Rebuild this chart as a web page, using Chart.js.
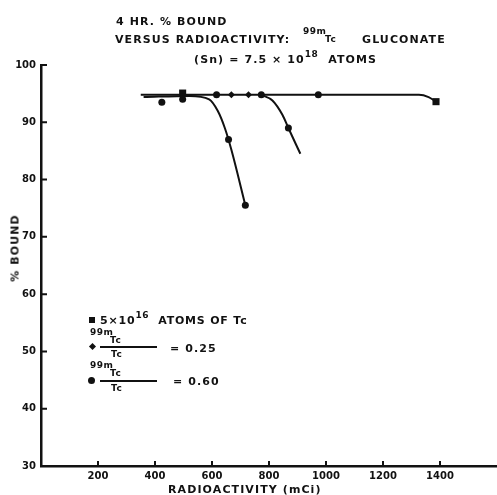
<!DOCTYPE html>
<html>
<head>
<meta charset="utf-8">
<script src="https://cdn.jsdelivr.net/npm/chart.js@4.4.1/dist/chart.umd.min.js"></script>
<style>
  body { margin: 0; background: #fff; }
  #wrap { position: relative; width: 497px; height: 495px; overflow: hidden; }
  #c { position: absolute; left: 0; top: 0; }
  .t { position: absolute; font-family: "DejaVu Sans", sans-serif; font-weight: bold; color: #111;
       line-height: 1; white-space: nowrap; font-size: 11px; letter-spacing: 1.1px; }
  .s { font-size: 9px; letter-spacing: 0.5px; }
  .up { position: relative; top: -6px; font-size: 9px; letter-spacing: 0.5px; }
  .bar { position: absolute; height: 2px; background: #111; }
  .sq { position: absolute; width: 6px; height: 6px; background: #111; }
  .dm { position: absolute; width: 5px; height: 5px; background: #111; transform: rotate(45deg); }
  .dot { position: absolute; width: 7px; height: 7px; background: #111; border-radius: 50%; }
</style>
</head>
<body>
<div id="wrap">
  <canvas id="c" width="497" height="495"></canvas>

  <div class="t" style="left:116px; top:16px;">4 HR. % BOUND</div>
  <div class="t" style="left:115px; top:34px;">VERSUS RADIOACTIVITY:</div>
  <div class="t s" style="left:303px; top:27px;">99m</div>
  <div class="t s" style="left:325px; top:35px;">Tc</div>
  <div class="t" style="left:362px; top:34px;">GLUCONATE</div>
  <div class="t" style="left:194px; top:54px;">(Sn) = 7.5 × 10<span class="up">18</span>&nbsp;&nbsp;ATOMS</div>

  <div class="sq" style="left:89px; top:317px;"></div>
  <div class="t" style="left:100px; top:315px; letter-spacing:0.8px;">5×10<span class="up">16</span>&nbsp;&nbsp;ATOMS OF Tc</div>

  <div class="t s" style="left:90px; top:328px;">99m</div>
  <div class="t s" style="left:110px; top:336px;">Tc</div>
  <div class="dm" style="left:90px; top:344px;"></div>
  <div class="bar" style="left:100px; top:346px; width:57px;"></div>
  <div class="t s" style="left:111px; top:350px;">Tc</div>
  <div class="t" style="left:170px; top:343px;">= 0.25</div>

  <div class="t s" style="left:90px; top:361px;">99m</div>
  <div class="t s" style="left:110px; top:369px;">Tc</div>
  <div class="dot" style="left:88px; top:377px;"></div>
  <div class="bar" style="left:100px; top:380px; width:57px;"></div>
  <div class="t s" style="left:111px; top:384px;">Tc</div>
  <div class="t" style="left:173px; top:376px;">= 0.60</div>

  <div class="t" style="left:168px; top:484px;">RADIOACTIVITY (mCi)</div>
  <div class="t" style="left:15px; top:248px; transform: translate(-50%, -50%) rotate(-90deg); transform-origin: center;">% BOUND</div>
</div>

<script>
// curves (mCi, % bound)
const flatX = [350, 500, 1000, 1326, 1360, 1386];
const flatY = [94.8, 94.8, 94.8, 94.8, 94.4, 93.6];
const low60X = [360, 521, 590, 620, 645, 668, 717];
const low60Y = [94.4, 94.6, 94.0, 92.0, 89.0, 85.2, 75.5];
const low25X = [773, 812, 847, 868, 910];
const low25Y = [94.8, 93.8, 91.3, 89.0, 84.5];

// plotted markers
const squareX = [497, 1386];
const squareY = [95.1, 93.6];
const diamondX = [668, 728];
const diamondY = [94.8, 94.8];
const circleX = [424, 497, 616, 658, 717, 773, 868, 973];
const circleY = [93.5, 94.0, 94.8, 87.0, 75.5, 94.8, 89.0, 94.8];

const xTicks = [200, 400, 600, 800, 1000, 1200, 1400];
const yTicks = [40, 50, 60, 70, 80, 90, 100];

const ink = '#111';
const pts = (xs, ys) => xs.map((x, i) => ({x: x, y: ys[i]}));

function curve(xs, ys) {
    return {
        type: 'line',
        data: pts(xs, ys),
        borderColor: ink,
        borderWidth: 2,
        pointRadius: 0,
        cubicInterpolationMode: 'monotone',
        fill: false
    };
}

function marks(xs, ys, style, r) {
    return {
        type: 'scatter',
        data: pts(xs, ys),
        pointStyle: style,
        pointRadius: r,
        backgroundColor: ink,
        borderColor: ink,
        borderWidth: 0,
        showLine: false
    };
}

// tick marks drawn inward, like the original
const innerTicks = {
    id: 'innerTicks',
    afterDatasetsDraw(chart) {
        const ctx = chart.ctx;
        const x = chart.scales.x, y = chart.scales.y;
        ctx.save();
        ctx.strokeStyle = ink;
        ctx.lineWidth = 2;
        ctx.beginPath();
        xTicks.forEach(v => {
            const px = x.getPixelForValue(v);
            ctx.moveTo(px, y.bottom);
            ctx.lineTo(px, y.bottom - 5);
        });
        yTicks.forEach(v => {
            const py = y.getPixelForValue(v);
            ctx.moveTo(x.left, py);
            ctx.lineTo(x.left + 6, py);
        });
        ctx.stroke();
        ctx.restore();
    }
};

const tickFont = {family: 'DejaVu Sans', weight: 'bold', size: 10};

new Chart(document.getElementById('c'), {
    data: {
        datasets: [
            curve(flatX, flatY),
            curve(low60X, low60Y),
            curve(low25X, low25Y),
            marks(squareX, squareY, 'rect', 5),
            marks(diamondX, diamondY, 'rectRot', 3.5),
            marks(circleX, circleY, 'circle', 3.5)
        ]
    },
    options: {
        responsive: false,
        animation: false,
        layout: {autoPadding: false, padding: {top: 65, right: 0, left: 0, bottom: 0}},
        plugins: {legend: {display: false}, tooltip: {enabled: false}},
        scales: {
            x: {
                type: 'linear',
                min: 0,
                max: 1600,
                afterBuildTicks: s => { s.ticks = xTicks.map(v => ({value: v})); },
                afterFit: s => { s.height = 29; },
                ticks: {color: ink, font: tickFont, padding: 4, maxRotation: 0, callback: v => String(v)},
                grid: {display: false, drawTicks: false},
                border: {display: true, color: ink, width: 2.5}
            },
            y: {
                min: 30,
                max: 100,
                afterBuildTicks: s => { s.ticks = [30].concat(yTicks).map(v => ({value: v})); },
                afterFit: s => { s.width = 41; },
                ticks: {color: ink, font: tickFont, padding: 5, callback: v => String(v)},
                grid: {display: false, drawTicks: false},
                border: {display: true, color: ink, width: 2.5}
            }
        }
    },
    plugins: [innerTicks]
});
</script>
</body>
</html>
